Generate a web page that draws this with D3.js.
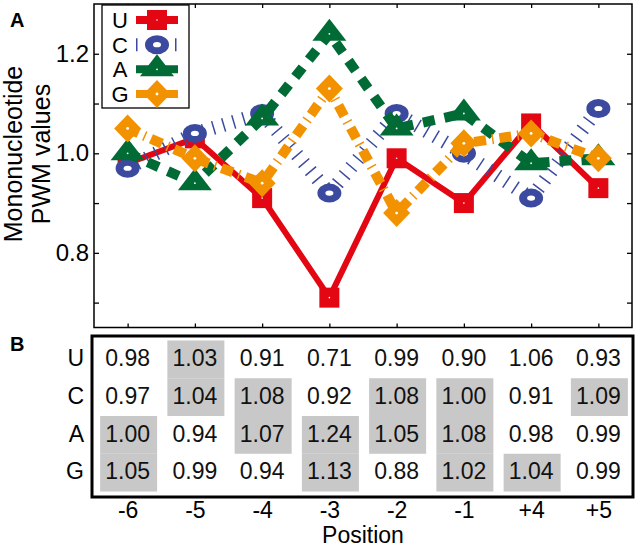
<!DOCTYPE html>
<html>
<head>
<meta charset="utf-8">
<script src="https://cdn.jsdelivr.net/npm/d3@7"></script>
<style>
  html, body { margin: 0; padding: 0; background: #fff; }
  svg { display: block; font-family: "Liberation Sans", Arial, Helvetica, sans-serif; }
</style>
</head>
<body>
<svg id="chart" width="635" height="549"></svg>
<script>
// ---------------- data ----------------
const positions = ["-6", "-5", "-4", "-3", "-2", "-1", "+4", "+5"];
const nucleotides = ["U", "C", "A", "G"];
const valuesU = [0.98, 1.03, 0.91, 0.71, 0.99, 0.90, 1.06, 0.93];
const valuesC = [0.97, 1.04, 1.08, 0.92, 1.08, 1.00, 0.91, 1.09];
const valuesA = [1.00, 0.94, 1.07, 1.24, 1.05, 1.08, 0.98, 0.99];
const valuesG = [1.05, 0.99, 0.94, 1.13, 0.88, 1.02, 1.04, 0.99];
const highlightU = [0, 1, 0, 0, 0, 0, 0, 0];
const highlightC = [0, 1, 1, 0, 1, 1, 0, 1];
const highlightA = [1, 0, 1, 1, 1, 1, 0, 0];
const highlightG = [1, 0, 0, 1, 0, 1, 1, 0];
const yTicks = [0.7, 0.8, 0.9, 1.0, 1.1, 1.2];
const yTickLabels = [0.8, 1.0, 1.2];

const colors = { U: "#e30613", C: "#3b4a9e", A: "#006b35", G: "#f39200" };
const values = { U: valuesU, C: valuesC, A: valuesA, G: valuesG };
const highlights = { U: highlightU, C: highlightC, A: highlightA, G: highlightG };

(function () {
const svg = d3.select("#chart");
const FONT = 23;

// ---------------- panel A ----------------
const pLeft = 94, pRight = 632, pTop = 4, pBottom = 327.5;
const x = d3.scalePoint().domain(positions).range([pLeft, pRight]).padding(0.5);
const y = d3.scaleLinear().domain([0.65, 1.3]).range([pBottom, pTop]);

// axes (ticks inward)
const fmt = d => yTickLabels.some(v => Math.abs(v - d) < 1e-9) ? d3.format(".1f")(d) : "";
const gL = svg.append("g").attr("transform", `translate(${pLeft},0)`)
  .call(d3.axisLeft(y).tickValues(yTicks).tickSize(-5).tickPadding(5).tickFormat(fmt));
const gR = svg.append("g").attr("transform", `translate(${pRight},0)`)
  .call(d3.axisRight(y).tickValues(yTicks).tickSize(-5).tickFormat(""));
const gT = svg.append("g").attr("transform", `translate(0,${pTop})`)
  .call(d3.axisTop(x).tickSize(-4).tickFormat(""));
const gB = svg.append("g").attr("transform", `translate(0,${pBottom})`)
  .call(d3.axisBottom(x).tickSize(-4).tickFormat(""));
[gL, gR, gT, gB].forEach(g => {
  g.select(".domain").remove();
  g.selectAll(".tick line").attr("stroke", "#000").attr("stroke-width", 1.3);
  g.selectAll("text").attr("font-size", "24px").attr("fill", "#000")
    .attr("font-family", "Liberation Sans, Arial, sans-serif");
});
svg.append("rect").attr("x", pLeft).attr("y", pTop)
  .attr("width", pRight - pLeft).attr("height", pBottom - pTop)
  .attr("fill", "none").attr("stroke", "#000").attr("stroke-width", 1.5);

// y label
const ylab = svg.append("text")
  .attr("transform", "translate(28,154) rotate(-90)")
  .attr("text-anchor", "middle").attr("font-size", "25px").attr("fill", "#000");
ylab.append("tspan").attr("x", 0).attr("dy", "-0.25em").text("Mononucleotide");
ylab.append("tspan").attr("x", 0).attr("dy", "1.12em").text("PWM values");

// panel letters
svg.append("text").attr("x", 10).attr("y", 27).attr("font-size", "20px")
  .attr("font-weight", "bold").text("A");
svg.append("text").attr("x", 10).attr("y", 351).attr("font-size", "20px")
  .attr("font-weight", "bold").text("B");

// line styles
const lineStyles = {
  U: { width: 6, dash: null },
  C: { width: 14, dash: "1.5 9" },
  A: { width: 10, dash: "12 10" },
  G: { width: 10, dash: "12 6 1.5 6" }
};

function drawMarker(g, key, cx, cy) {
  const c = colors[key];
  if (key === "U") {
    g.append("rect").attr("x", cx - 10).attr("y", cy - 10).attr("width", 20).attr("height", 20).attr("fill", c);
    g.append("circle").attr("cx", cx).attr("cy", cy).attr("r", 0.8).attr("fill", "#fff");
  } else if (key === "C") {
    g.append("ellipse").attr("cx", cx).attr("cy", cy).attr("rx", 12).attr("ry", 9.5).attr("fill", c);
    g.append("ellipse").attr("cx", cx).attr("cy", cy).attr("rx", 4).attr("ry", 2.6).attr("fill", "#fff");
  } else if (key === "A") {
    g.append("path").attr("d", `M${cx},${cy - 15}L${cx + 17},${cy + 7}L${cx - 17},${cy + 7}Z`).attr("fill", c);
    g.append("circle").attr("cx", cx).attr("cy", cy).attr("r", 0.9).attr("fill", "#fff");
  } else {
    g.append("path").attr("d", `M${cx},${cy - 14}L${cx + 13.5},${cy}L${cx},${cy + 14}L${cx - 13.5},${cy}Z`).attr("fill", c);
    g.append("circle").attr("cx", cx).attr("cy", cy).attr("r", 1.4).attr("fill", "#fff");
  }
}

const line = d3.line().x((d, i) => x(positions[i])).y(d => y(d));
const plotG = svg.append("g");
nucleotides.forEach(key => {
  const st = lineStyles[key];
  const p = plotG.append("path").datum(values[key]).attr("d", line)
    .attr("fill", "none").attr("stroke", colors[key]).attr("stroke-width", st.width)
    .attr("stroke-linejoin", "round");
  if (st.dash) p.attr("stroke-dasharray", st.dash);
  const mg = plotG.append("g");
  values[key].forEach((v, i) => drawMarker(mg, key, x(positions[i]), y(v)));
});

// legend
const lg = svg.append("g");
lg.append("rect").attr("x", 102).attr("y", 5).attr("width", 87).attr("height", 103)
  .attr("fill", "#fff").attr("stroke", "#000").attr("stroke-width", 1.3);
const legY = d3.scalePoint().domain(nucleotides).range([20, 94]);
const legendDash = { U: null, C: "1.5 37.5", A: "14 14 14", G: "13 16 13" };
const legendWidth = { U: 8, C: 13, A: 8, G: 8 };
nucleotides.forEach(key => {
  const yy = legY(key);
  lg.append("text").attr("x", 120).attr("y", yy).attr("dy", "0.36em")
    .attr("text-anchor", "middle").attr("font-size", "22px").text(key);
  const l = lg.append("line").attr("x1", 136).attr("x2", 178).attr("y1", yy).attr("y2", yy)
    .attr("stroke", colors[key]).attr("stroke-width", legendWidth[key]);
  if (legendDash[key]) l.attr("stroke-dasharray", legendDash[key]);
  drawMarker(lg, key, 157, yy);
});

// ---------------- panel B (table) ----------------
const tLeft = 92, tRight = 633, tTop = 336, tBottom = 497;
const rowY = d3.scaleBand().domain(nucleotides).range([339, 490]);
const cellW = 57;
const tb = svg.append("g");
nucleotides.forEach(key => {
  highlights[key].forEach((h, i) => {
    if (h) tb.append("rect")
      .attr("x", x(positions[i]) - cellW / 2 + 1).attr("y", rowY(key) + 1.5)
      .attr("width", cellW).attr("height", rowY.bandwidth())
      .attr("fill", "#c8c8c8");
  });
});
nucleotides.forEach(key => {
  const cy = rowY(key) + rowY.bandwidth() / 2;
  tb.append("text").attr("x", 84).attr("y", cy).attr("dy", "0.36em")
    .attr("text-anchor", "end").attr("font-size", FONT + "px").text(key);
  values[key].forEach((v, i) => {
    tb.append("text").attr("x", x(positions[i])).attr("y", cy).attr("dy", "0.36em")
      .attr("text-anchor", "middle").attr("font-size", FONT + "px").attr("fill", "#111")
      .text(d3.format(".2f")(v));
  });
});
tb.append("rect").attr("x", tLeft).attr("y", tTop).attr("width", tRight - tLeft)
  .attr("height", tBottom - tTop).attr("fill", "none").attr("stroke", "#000").attr("stroke-width", 3);

// position axis labels
const gPos = svg.append("g").attr("transform", `translate(0,${tBottom})`)
  .call(d3.axisBottom(x).tickSize(0).tickPadding(5));
gPos.select(".domain").remove();
gPos.selectAll("text").attr("font-size", FONT + "px").attr("fill", "#000")
  .attr("font-family", "Liberation Sans, Arial, sans-serif");
svg.append("text").attr("x", 363).attr("y", 543).attr("text-anchor", "middle")
  .attr("font-size", FONT + "px").text("Position");
})();
</script>
</body>
</html>
